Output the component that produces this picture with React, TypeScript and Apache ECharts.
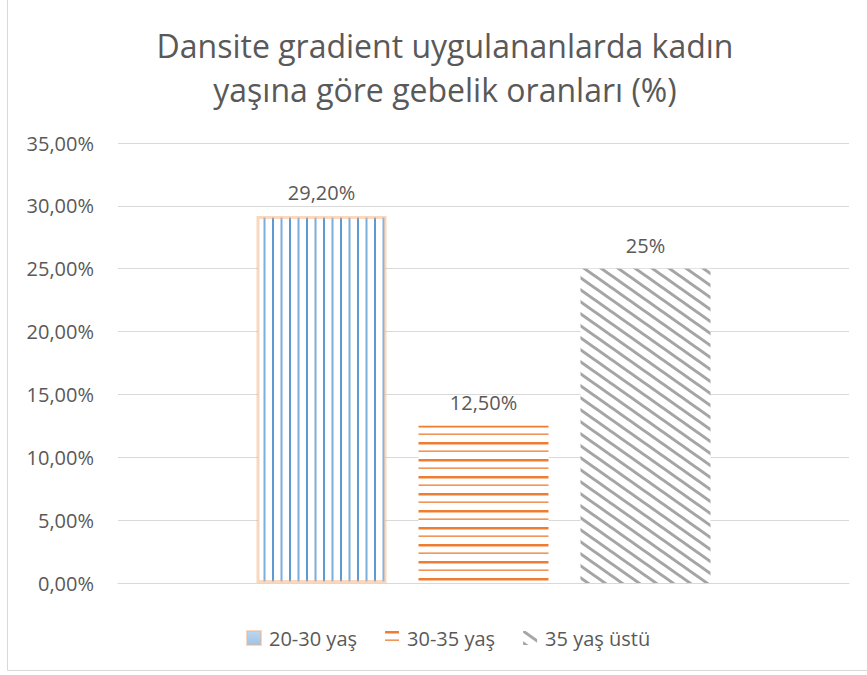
import React, { useEffect, useRef } from "react";
import * as echarts from "echarts";

const categories = [""];
const seriesNames = ["20-30 yaş", "30-35 yaş", "35 yaş üstü"];
const seriesValues = [29.2, 12.5, 25];
const valueLabels = ["29,20%", "12,50%", "25%"];
const titleLines = ["Dansite gradient uygulananlarda kadın", "yaşına göre gebelik oranları (%)"];

const FONT = "'Open Sans', 'Noto Sans', sans-serif";
const TEXT = "#595959";

function makeTile(w: number, h: number, draw: (ctx: CanvasRenderingContext2D) => void) {
  const c = document.createElement("canvas");
  c.width = w;
  c.height = h;
  const ctx = c.getContext("2d") as CanvasRenderingContext2D;
  ctx.fillStyle = "#ffffff";
  ctx.fillRect(0, 0, w, h);
  draw(ctx);
  return { image: c, repeat: "repeat", imageWidth: w, imageHeight: h } as any;
}

export default function App() {
  const ref = useRef<HTMLDivElement>(null);
  useEffect(() => {
    if (!ref.current) return;
    const chart = echarts.init(ref.current, undefined, { renderer: "svg" });

    const bluePattern = makeTile(17, 4, (ctx) => {
      ctx.fillStyle = "#5b9bd5";
      ctx.fillRect(0, 0, 2, 4);
      ctx.fillStyle = "#7aaedd";
      ctx.fillRect(8.5, 0, 2, 4);
    });
    const orangePattern = makeTile(4, 17, (ctx) => {
      ctx.fillStyle = "#ed7d31";
      ctx.fillRect(0, 0, 4, 2.5);
      ctx.fillRect(0, 8.5, 4, 1.3);
    });
    const grayPattern = makeTile(17, 12, (ctx) => {
      ctx.strokeStyle = "#a5a5a5";
      ctx.lineWidth = 3;
      for (let k = -1; k <= 1; k++) {
        ctx.beginPath();
        ctx.moveTo(-17, k * 12 - 12);
        ctx.lineTo(34, k * 12 + 24);
        ctx.stroke();
      }
    });
    const patterns = [bluePattern, orangePattern, grayPattern];

    const legendStyles = [
      {
        color: new echarts.graphic.LinearGradient(0, 0, 0, 1, [
          { offset: 0, color: "#bdd7ee" },
          { offset: 1, color: "#9dc3e6" },
        ]),
      },
      { color: orangePattern },
      { color: grayPattern },
    ];

    chart.setOption({
      animation: false,
      backgroundColor: "#ffffff",
      title: {
        text: titleLines.join("\n"),
        left: 440,
        top: 18,
        textAlign: "center",
        textStyle: {
          fontFamily: FONT,
          fontSize: 32,
          fontWeight: "normal",
          color: TEXT,
          lineHeight: 44,
        },
      },
      graphic: [
        {
          type: "rect",
          shape: { x: 7.5, y: -5, width: 880, height: 675.5 },
          style: { fill: "none", stroke: "#d9d9d9", lineWidth: 1 },
          silent: true,
          z: -10,
        },
      ],
      legend: {
        data: seriesNames.map((n, i) => ({ name: n, itemStyle: legendStyles[i] })),
        left: 241,
        top: 623,
        itemWidth: 14,
        itemHeight: 14,
        itemGap: 28,
        icon: "rect",
        textStyle: { fontFamily: FONT, fontSize: 20, color: TEXT, padding: [0, 0, 0, 3] },
      },
      grid: { left: 118, right: 18, top: 143, bottom: 92, containLabel: false },
      xAxis: {
        type: "category",
        data: categories,
        axisLine: { show: true, lineStyle: { color: "#d9d9d9", width: 1 } },
        axisTick: { show: false },
        axisLabel: { show: false },
      },
      yAxis: {
        type: "value",
        min: 0,
        max: 35,
        interval: 5,
        axisLine: { show: false },
        axisTick: { show: false },
        splitLine: { lineStyle: { color: "#d9d9d9", width: 1 } },
        axisLabel: {
          margin: 24,
          fontFamily: FONT,
          fontSize: 20,
          color: TEXT,
          formatter: (v: number) => v.toFixed(2).replace(".", ",") + "%",
        },
      },
      series: seriesNames.map((n, i) => ({
        name: n,
        type: "bar",
        data: [seriesValues[i]],
        barWidth: 130,
        barGap: "24.6%",
        itemStyle:
          i === 0
            ? { color: patterns[i], borderColor: "rgba(244,177,131,0.5)", borderWidth: 3 }
            : { color: patterns[i] },
        label: {
          show: true,
          position: "top",
          distance: 13,
          formatter: valueLabels[i],
          fontFamily: FONT,
          fontSize: 20,
          color: TEXT,
        },
      })),
    });
    return () => chart.dispose();
  }, []);
  return (
    <div
      ref={ref}
      style={{ position: "fixed", left: 0, top: 0, width: 867, height: 675 }}
    />
  );
}
